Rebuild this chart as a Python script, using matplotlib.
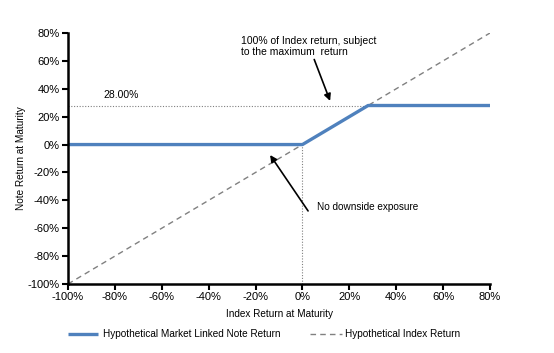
import matplotlib
matplotlib.use("Agg")
import matplotlib.pyplot as plt
from matplotlib.ticker import FuncFormatter

plt.rcParams['font.family'] = ['Liberation Sans', 'DejaVu Sans']

index_x = [-100, 0, 28, 80]
note_y = [0, 0, 28, 28]
index_line_x = [-100, 80]
index_line_y = [-100, 80]
cap = 28
x_ticks = list(range(-100, 81, 20))
y_ticks = list(range(-100, 81, 20))

fig = plt.figure(figsize=(5.54, 3.53), dpi=100)
ax = fig.add_axes([68/554, 1-284/353, (490-68)/554, (284-33)/353])

ax.plot([-100, cap], [cap, cap], color='#808080', lw=0.8, ls=(0, (1, 1.5)))
ax.plot([0, 0], [-100, 0], color='#808080', lw=0.8, ls=(0, (1, 1.5)))
ax.plot(index_line_x, index_line_y, color='#808080', lw=1.0, ls=(0, (4, 3)),
        label='Hypothetical Index Return')
ax.plot(index_x, note_y, color='#4F81BD', lw=2.4,
        label='Hypothetical Market Linked Note Return', solid_capstyle='butt')

ax.set_xlim(-100, 80)
ax.set_ylim(-100, 80)
ax.set_xticks(x_ticks)
ax.set_yticks(y_ticks)
fmt = FuncFormatter(lambda v, p: f"{int(v)}%")
ax.xaxis.set_major_formatter(fmt)
ax.yaxis.set_major_formatter(fmt)
for s in ['top', 'right']:
    ax.spines[s].set_visible(False)
for s in ['left', 'bottom']:
    ax.spines[s].set_linewidth(1.8)
    ax.spines[s].set_color('black')
ax.tick_params(direction='out', length=4, width=1.5, labelsize=8, colors='black', pad=2)
ax.set_xlabel('Index Return at Maturity', fontsize=7.2, labelpad=5)
ax.set_ylabel('Note Return at Maturity', fontsize=7.2, labelpad=1)

ax.text(-85, 32, '28.00%', fontsize=7.5, ha='left', va='bottom')
ax.annotate('100% of Index return, subject\nto the maximum  return',
            xy=(11.8, 31.3), xytext=(-26, 63), fontsize=7.5, ha='left', va='bottom',
            arrowprops=dict(arrowstyle='-|>', color='black', lw=1.2,
                            shrinkA=0, shrinkB=0, mutation_scale=10),
            linespacing=1.1)
ax.annotate('', xy=(-13.8, -7.5), xytext=(2.4, -47.6),
            arrowprops=dict(arrowstyle='-|>', color='black', lw=1.2,
                            shrinkA=0, shrinkB=0, mutation_scale=10))
ax.text(6.3, -44.8, 'No downside exposure', fontsize=7.2, ha='left', va='center')

handles, labels = ax.get_legend_handles_labels()
fig.legend([handles[1]], [labels[1]], loc='center left', bbox_to_anchor=(68/554, 1-334/353),
           frameon=False, fontsize=7.2, handlelength=3.0, handletextpad=0.5,
           borderpad=0, borderaxespad=0)
fig.legend([handles[0]], [labels[0]], loc='center left', bbox_to_anchor=(310/554, 1-334/353),
           frameon=False, fontsize=7.2, handlelength=3.2, handletextpad=0.3,
           borderpad=0, borderaxespad=0)

fig.savefig('out.png', dpi=100)
